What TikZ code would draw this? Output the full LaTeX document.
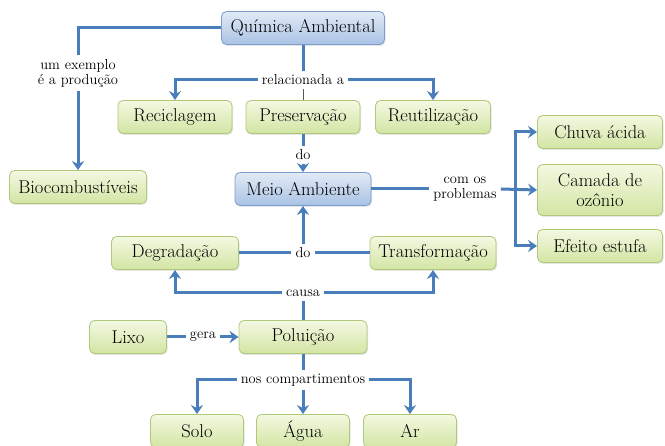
\documentclass[tikz,border=0pt]{standalone}
\usetikzlibrary{arrows.meta,shadows}
\definecolor{linkblue}{HTML}{4A7EBB}
\definecolor{boxblueA}{HTML}{E2EBF6}
\definecolor{boxblueB}{HTML}{A9C2E4}
\definecolor{boxblueD}{HTML}{7C9DCB}
\definecolor{boxgreenA}{HTML}{F3F8E2}
\definecolor{boxgreenB}{HTML}{D3E5A3}
\definecolor{boxgreenD}{HTML}{AFC879}
\begin{document}
\begin{tikzpicture}[x=1pt,y=-1pt]
		\begin{scope}
		
		\tikzstyle{bluebox}=[rectangle,
		rounded corners=5pt,
		draw=boxblueD,
		line width=0.8pt,
		top color=boxblueA,
		bottom color=boxblueB,
		drop shadow={opacity=0.2,shadow xshift=1pt,shadow yshift=-1.5pt},
		minimum height=33pt,
		inner sep=2pt,
		align=center,
		font=\fontsize{18.5}{20}\selectfont
		]
		\tikzstyle{greenbox}=[bluebox,
		draw=boxgreenD,
		top color=boxgreenA,
		bottom color=boxgreenB
		]
		\tikzstyle{linklabel}=[fill=white,
		inner sep=4pt,
		align=center,
		font=\fontsize{14.5}{15}\selectfont
		]
		\tikzstyle{conn}=[draw=linkblue,line width=3pt]
		\tikzstyle{arr}=[conn,-{Stealth[length=9pt,width=12pt,inset=3pt]}]
		
		\useasboundingbox (0,0) rectangle (665,446);
		
		\coordinate (pquim) at (303, 28);
		\coordinate (precic) at (175, 117);
		\coordinate (ppres) at (303, 117);
		\coordinate (preut) at (433, 117);
		\coordinate (pbio) at (78, 187);
		\coordinate (pmeio) at (303, 189);
		\coordinate (pchuva) at (600, 132);
		\coordinate (pcamada) at (600, 190);
		\coordinate (pefeito) at (600, 246);
		\coordinate (pdegr) at (175, 253);
		\coordinate (ptransf) at (433, 253);
		\coordinate (plixo) at (128, 337);
		\coordinate (ppolu) at (303, 337);
		\coordinate (psolo) at (197, 431);
		\coordinate (pagua) at (303, 431);
		\coordinate (par) at (410, 431);
		
		\node[bluebox, minimum width=163pt] (quim) at (pquim) {Química Ambiental};
		\node[greenbox, minimum width=114pt] (recic) at (precic) {Reciclagem};
		\node[greenbox, minimum width=114pt] (pres) at (ppres) {Preservação};
		\node[greenbox, minimum width=115pt] (reut) at (preut) {Reutilização};
		\node[greenbox, minimum width=137pt] (bio) at (pbio) {Biocombustíveis};
		\node[bluebox, minimum width=136pt] (meio) at (pmeio) {Meio Ambiente};
		\node[greenbox, minimum width=125pt] (chuva) at (pchuva) {Chuva ácida};
		\node[greenbox, minimum width=125pt, minimum height=51pt] (camada) at (pcamada) {Camada de\\ozônio};
		\node[greenbox, minimum width=125pt] (efeito) at (pefeito) {Efeito estufa};
		\node[greenbox, minimum width=127pt] (degr) at (pdegr) {Degradação};
		\node[greenbox, minimum width=126pt] (transf) at (ptransf) {Transformação};
		\node[greenbox, minimum width=77pt] (lixo) at (plixo) {Lixo};
		\node[greenbox, minimum width=128pt] (polu) at (ppolu) {Poluição};
		\node[greenbox, minimum width=93pt] (solo) at (psolo) {Solo};
		\node[greenbox, minimum width=93pt] (agua) at (pagua) {Água};
		\node[greenbox, minimum width=93pt] (ar) at (par) {Ar};
		
		\node[linklabel] (lblex) at (78, 73) {um exemplo\\é a produção};
		\node[linklabel] (lblrel) at (303, 80) {relacionada a};
		\node[linklabel] (lbldo) at (303, 155) {do};
		\node[linklabel] (lblprob) at (465, 189) {com os\\problemas};
		\node[linklabel] (lbldob) at (303, 253) {do};
		\node[linklabel] (lblcausa) at (303, 293) {causa};
		\node[linklabel] (lblgera) at (203, 337) {gera};
		\node[linklabel] (lblcomp) at (303, 380) {nos compartimentos};
		\coordinate (junc) at (515, 189);
		
		\draw[conn] (quim.west) -| (lblex.north);
		\draw[arr] (lblex.south) -- (bio.north);
		\draw[conn] (quim.south) -- (lblrel.north);
		\draw[arr] (lblrel.west) -| (recic.north);
		\draw[arr] (lblrel.east) -| (reut.north);
		\draw[gray!70!black, line width=0.8pt] (lblrel.south) -- (pres.north);
		\draw[conn] (pres.south) -- (lbldo.north);
		\draw[arr] (lbldo.south) -- (meio.north);
		\draw[conn] (meio.east) -- (lblprob.west);
		\draw[arr] (lblprob.east) -- (camada.west);
		\draw[arr] (junc) |- (chuva.west);
		\draw[arr] (junc) |- (efeito.west);
		\draw[conn] (degr.east) -- (lbldob.west);
		\draw[conn] (transf.west) -- (lbldob.east);
		\draw[arr] (lbldob.north) -- (meio.south);
		\draw[conn] (polu.north) -- (lblcausa.south);
		\draw[arr] (lblcausa.west) -| (degr.south);
		\draw[arr] (lblcausa.east) -| (transf.south);
		\draw[conn] (lixo.east) -- (lblgera.west);
		\draw[arr] (lblgera.east) -- (polu.west);
		\draw[conn] (polu.south) -- (lblcomp.north);
		\draw[arr] (lblcomp.west) -| (solo.north);
		\draw[arr] (lblcomp.south) -- (agua.north);
		\draw[arr] (lblcomp.east) -| (ar.north);
		
		\end{scope}
\end{tikzpicture}
\end{document}
